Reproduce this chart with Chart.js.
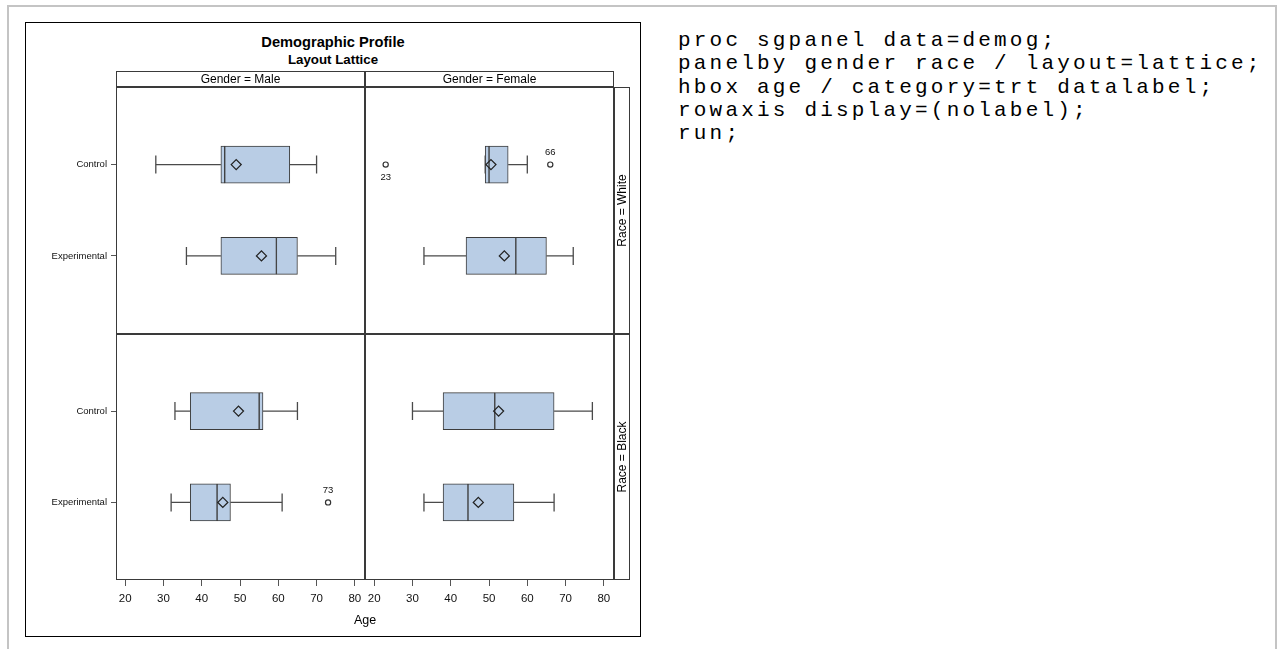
<!DOCTYPE html>
<html>
<head>
<meta charset="utf-8">
<title>Demographic Profile</title>
<script src="https://cdn.jsdelivr.net/npm/chart.js@4.4.1/dist/chart.umd.min.js"></script>
<style>
  html, body { margin: 0; padding: 0; background: #fff; }
  body { width: 1280px; height: 649px; overflow: hidden; position: relative;
         font-family: "Liberation Sans", Arial, sans-serif; }
  #page { position: absolute; left: 7px; top: 5px; width: 1266px; height: 700px;
          border: 2px solid #c4c4c4; border-bottom: none; }
  #graph { position: absolute; left: 25px; top: 22px; width: 614px; height: 613px;
           border: 1px solid #000; background: #fff; }
  #graph canvas { position: absolute; left: 0; top: 0; }
  .ttl { position: absolute; left: 0; width: 614px; text-align: center;
         font-weight: bold; color: #000; white-space: nowrap; }
  #t1 { top: 11px; font-size: 14.67px; line-height: 17px; }
  #t2 { top: 29px; font-size: 13.3px; line-height: 15px; }
  #code { position: absolute; left: 678px; top: 29px; margin: 0;
          font-family: "Liberation Mono", "DejaVu Sans Mono", monospace;
          font-size: 21px; line-height: 23.3px; letter-spacing: 3.2px;
          white-space: pre; color: #000; }
</style>
</head>
<body>
<div id="page"></div>
<div id="graph">
  <div class="ttl" id="t1">Demographic Profile</div>
  <div class="ttl" id="t2">Layout Lattice</div>
  <canvas id="lattice" width="614" height="613"></canvas>
</div>
<pre id="code">proc sgpanel data=demog;
panelby gender race / layout=lattice;
hbox age / category=trt datalabel;
rowaxis display=(nolabel);
run;</pre>

<script>
// Treatment groups (rows inside each panel) and panel variables
const categories = ['Control', 'Experimental'];
const genders = ['Male', 'Female'];
const races = ['White', 'Black'];
const ageTicks = [20, 30, 40, 50, 60, 70, 80];

// Box summaries: [lower whisker, Q1, median, Q3, upper whisker] for Control, Experimental
const maleWhiteStats = [[28, 45, 46, 63, 70], [36, 45, 59.5, 65, 75]];
const femaleWhiteStats = [[49, 49, 50, 55, 60], [33, 44, 57, 65, 72]];
const maleBlackStats = [[33, 37, 55, 56, 65], [32, 37, 44, 47.5, 61]];
const femaleBlackStats = [[30, 38, 51.5, 67, 77], [33, 38, 44.5, 56.5, 67]];

// Mean age for Control, Experimental
const maleWhiteMeans = [49, 55.6];
const femaleWhiteMeans = [50.5, 54];
const maleBlackMeans = [49.6, 45.5];
const femaleBlackMeans = [52.5, 47.2];

// Outlying ages for Control, Experimental
const maleWhiteOutliers = [[], []];
const femaleWhiteOutliers = [[23, 66], []];
const maleBlackOutliers = [[], [73]];
const femaleBlackOutliers = [[], []];

const BOX_FILL = '#B9CDE5';
const EDGE = '#3c3c3c';
const FRAME = '#3a3a3a';
const FONT = '"Liberation Sans", Arial, sans-serif';

function panelDatasets(stats, means, outliers, xID, yID) {
  const lower = [], upper = [], whisk = [], caps = [], mean = [], outs = [];
  stats.forEach((s, i) => {
    lower.push({ y: i, x: [s[1], s[2]] });
    upper.push({ y: i, x: [s[2], s[3]] });
    whisk.push({ x: s[0], y: i }, { x: s[1], y: i }, { x: null, y: null },
               { x: s[3], y: i }, { x: s[4], y: i }, { x: null, y: null });
    caps.push({ x: s[0], y: i }, { x: s[4], y: i });
    mean.push({ x: means[i], y: i });
    outliers[i].forEach(v => outs.push({ x: v, y: i, q1: s[1] }));
  });
  const box = {
    type: 'bar', indexAxis: 'y', grouped: false, xAxisID: xID, yAxisID: yID,
    backgroundColor: BOX_FILL, borderColor: EDGE, borderWidth: 1, borderSkipped: false,
    barPercentage: 1, categoryPercentage: 1, maxBarThickness: 37, order: 5
  };
  return [
    Object.assign({ data: lower }, box),
    Object.assign({ data: upper }, box),
    { type: 'line', data: whisk, xAxisID: xID, yAxisID: yID, borderColor: '#4a4a4a',
      borderWidth: 1.2, pointRadius: 0, spanGaps: false, fill: false, order: 4 },
    { type: 'scatter', data: caps, xAxisID: xID, yAxisID: yID, pointStyle: 'line',
      rotation: 90, pointRadius: 9, borderColor: '#4a4a4a', borderWidth: 1.3, order: 3 },
    { type: 'scatter', data: mean, xAxisID: xID, yAxisID: yID, pointStyle: 'rectRot',
      pointRadius: 5, borderColor: '#222', borderWidth: 1.3,
      backgroundColor: 'rgba(0,0,0,0)', order: 1 },
    { type: 'scatter', data: outs, xAxisID: xID, yAxisID: yID, pointStyle: 'circle',
      pointRadius: 2.6, borderColor: '#333', borderWidth: 1.2, backgroundColor: '#fff',
      order: 0, outlierLabels: true }
  ];
}

const datasets = [].concat(
  panelDatasets(maleWhiteStats, maleWhiteMeans, maleWhiteOutliers, 'xM', 'yW'),
  panelDatasets(femaleWhiteStats, femaleWhiteMeans, femaleWhiteOutliers, 'xF', 'yW'),
  panelDatasets(maleBlackStats, maleBlackMeans, maleBlackOutliers, 'xM', 'yB'),
  panelDatasets(femaleBlackStats, femaleBlackMeans, femaleBlackOutliers, 'xF', 'yB')
);

function xAxis() {
  return {
    type: 'linear', position: 'bottom', stack: 'cols', stackWeight: 1,
    min: 17.6, max: 82.65, offset: false,
    afterBuildTicks: s => { s.ticks = ageTicks.map(v => ({ value: v })); },
    afterFit: s => { s.height = 30; },
    grid: { offset: false, drawOnChartArea: false, drawTicks: true, tickLength: 6,
            tickColor: '#555', tickWidth: 1 },
    border: { display: false },
    ticks: { padding: 6, maxRotation: 0, autoSkip: false, color: '#111',
             font: { family: FONT, size: 11.5 } }
  };
}
function yAxis(weight) {
  return {
    type: 'linear', position: 'left', stack: 'rows', stackWeight: 1, weight: weight,
    reverse: true, min: -0.85, max: 1.85, offset: false,
    afterBuildTicks: s => { s.ticks = categories.map((c, i) => ({ value: i })); },
    afterFit: s => { s.width = 90; },
    grid: { offset: false, drawOnChartArea: false, drawTicks: true, tickLength: 5,
            tickColor: '#555', tickWidth: 1 },
    border: { display: false },
    ticks: { padding: 4, color: '#111', font: { family: FONT, size: 9.5 },
             callback: v => categories[v] !== undefined ? categories[v] : '' }
  };
}

// Panel frames, header strips, row strips, outlier labels and the shared axis label
const latticePlugin = {
  id: 'lattice',
  afterDatasetsDraw(chart) {
    const ctx = chart.ctx;
    const xs = [chart.scales.xM, chart.scales.xF];
    const ys = [chart.scales.yW, chart.scales.yB];
    const area = chart.chartArea;
    ctx.save();

    // outlier data labels
    ctx.fillStyle = '#111';
    ctx.font = '9.5px ' + FONT;
    ctx.textAlign = 'center';
    ctx.textBaseline = 'middle';
    chart.data.datasets.forEach((ds, di) => {
      if (!ds.outlierLabels) return;
      const meta = chart.getDatasetMeta(di);
      meta.data.forEach((pt, i) => {
        const d = ds.data[i];
        const dy = d.x < d.q1 ? 12.5 : -12.5;
        ctx.fillText(String(d.x), pt.x, pt.y + dy);
      });
    });

    // panel borders
    ctx.strokeStyle = FRAME;
    ctx.lineWidth = 1;
    xs.forEach(x => ys.forEach(y => {
      ctx.strokeRect(Math.round(x.left) + 0.5, Math.round(y.top) + 0.5,
                     Math.round(x.right) - Math.round(x.left) - 1,
                     Math.round(y.bottom) - Math.round(y.top) - 1);
    }));

    // column headers
    const hTop = Math.round(area.top) - 16;
    ctx.font = '12px ' + FONT;
    ctx.fillStyle = '#000';
    xs.forEach((x, i) => {
      const l = Math.round(x.left), r = Math.round(x.right);
      ctx.strokeRect(l + 0.5, hTop + 0.5, r - l - 1, 15);
      ctx.fillText('Gender = ' + genders[i], (l + r) / 2, hTop + 8.5);
    });

    // row headers on the right
    const sL = Math.round(area.right);
    ys.forEach((y, i) => {
      const t = Math.round(y.top), b = Math.round(y.bottom);
      ctx.strokeRect(sL + 0.5, t + 0.5, 15, b - t - 1);
      ctx.save();
      ctx.translate(sL + 8.5, (t + b) / 2);
      ctx.rotate(-Math.PI / 2);
      ctx.fillText('Race = ' + races[i], 0, 0);
      ctx.restore();
    });

    // shared axis label
    ctx.font = '12.5px ' + FONT;
    ctx.fillText('Age', (area.left + area.right) / 2, area.bottom + 41);
    ctx.restore();
  }
};

new Chart(document.getElementById('lattice'), {
  type: 'scatter',
  data: { datasets },
  options: {
    responsive: false,
    animation: false,
    devicePixelRatio: 1,
    layout: { padding: { left: 0, top: 64, right: 26, bottom: 26 } },
    plugins: { legend: { display: false }, tooltip: { enabled: false }, title: { display: false } },
    scales: {
      xM: xAxis(),
      xF: xAxis(),
      yW: yAxis(1),
      yB: yAxis(0)
    }
  },
  plugins: [latticePlugin]
});
</script>
</body>
</html>
